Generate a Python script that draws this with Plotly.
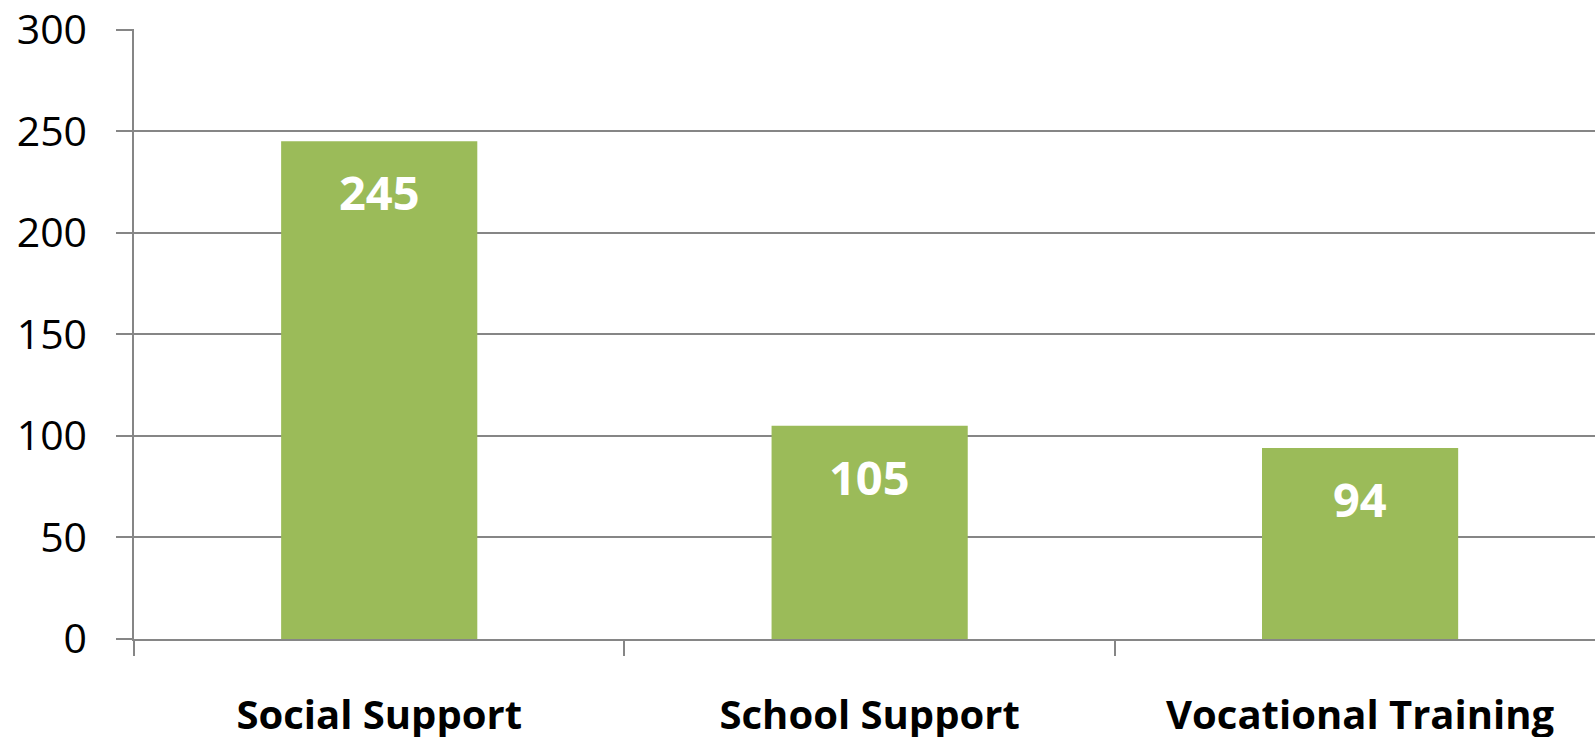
import plotly.graph_objects as go

# chart data
categories = ["Social Support", "School Support", "Vocational Training"]
counts = [245, 105, 94]
y_ticks = [0, 50, 100, 150, 200, 250, 300]

BAR_GREEN = "#9BBB59"
GRID_GREY = "#868686"
FONT = "Open Sans"

fig = go.Figure()

fig.add_trace(go.Bar(x=categories,
                     y=counts,
                     marker_color=BAR_GREEN,
                     marker_line_width=0,
                     hoverinfo="x+y"))

# value labels sit inside the bars, a little below the top
for cat, val in zip(categories, counts):
    fig.add_annotation(x=cat, y=val, text="<b>%d</b>" % val,
                       showarrow=False, yanchor="top", yshift=-17,
                       font=dict(family=FONT, size=47, color="white"))

fig.update_layout(width=1595, height=737,
                  margin=dict(l=134, r=0, t=29, b=98),
                  plot_bgcolor="white",
                  paper_bgcolor="white",
                  bargap=0.6,
                  showlegend=False,
                  font=dict(family=FONT, color="black"))

# the third category runs off the right edge in the original, so the range stops short
fig.update_xaxes(range=[-0.5, 2.479], automargin=False,
                 showline=True, linecolor=GRID_GREY, linewidth=2,
                 ticks="outside", tickson="boundaries", ticklen=15,
                 tickcolor=GRID_GREY, tickwidth=1.5,
                 showgrid=False,
                 tickfont=dict(family=FONT, size=40, weight="bold"),
                 ticklabelstandoff=40)

fig.update_yaxes(range=[0, 300.3], tickvals=y_ticks, automargin=False,
                 showline=True, linecolor=GRID_GREY, linewidth=1.5,
                 showgrid=True, gridcolor=GRID_GREY, gridwidth=1.5,
                 zeroline=False,
                 ticks="outside", ticklen=16, tickcolor=GRID_GREY, tickwidth=1.5,
                 tickfont=dict(family=FONT, size=41),
                 ticklabelstandoff=21, ticklabeloverflow="allow")

# drop the default page margin so the figure fills the window exactly
fig.write_html("out.html",
               config={"displayModeBar": False},
               post_script="document.body.style.margin='0';"
                           "document.documentElement.style.overflow='hidden';")
